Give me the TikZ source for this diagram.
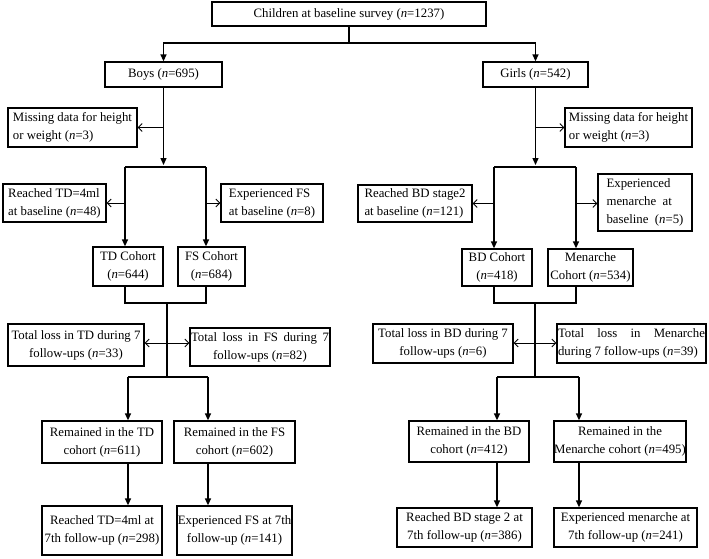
\documentclass[tikz,border=0pt]{standalone}
\usepackage{fontspec}
\setmainfont{Liberation Serif}
\usetikzlibrary{arrows.meta}
\newcommand{\ncount}[1]{(\textit{n}=#1)}
\tikzset{
  box/.style 2 args={draw, line width=1.3pt, minimum width=#1pt, minimum height=#2pt,
    inner sep=0pt, align=center, font=\fontsize{12.8}{18}\selectfont},
  link/.style={line width=1.3pt},
  flow/.style={line width=1.3pt, -{Triangle[length=7pt,width=6pt]}},
  excl/.style={line width=0.8pt, -{Straight Barb[length=4pt,width=8pt]}},
  lossarr/.style={line width=0.8pt, {Straight Barb[length=4pt,width=8pt]}-{Straight Barb[length=4pt,width=8pt]}},
}
\begin{document}
\begin{tikzpicture}[x=1pt, y=-1pt]
    \useasboundingbox (0,0) rectangle (709,558);
    % whole sample, split by sex
    \node[box={274}{24}] (all) at (349,14) {Children at baseline survey \ncount{1237}};
    \node[box={117}{25}] (boys) at (163.5,74.5) {Boys \ncount{695}};
    \node[box={105}{25}] (girls) at (535.5,74.5) {Girls \ncount{542}};
    \coordinate (sexsplit) at (349,43);
    \draw[link] (all.south) -- (sexsplit);
    \draw[flow] (sexsplit) -| (boys.north);
    \draw[flow] (sexsplit) -| (girls.north);

    % boys: exclusions at baseline
    \node[box={129}{39}, align=left] (missB) at (72.5,127.5) {Missing data for height\\or weight \ncount{3}};
    \node[box={103}{38}, align=left] (tdBase) at (54.5,203) {Reached TD=4ml\\at baseline \ncount{48}};
    \node[box={102}{38}, align=left] (fsBase) at (272,203) {Experienced FS\\at baseline \ncount{8}};
    \node[box={70}{39}] (tdCoh) at (128,266.5) {TD Cohort\\\ncount{644}};
    \node[box={67}{39}] (fsCoh) at (211.5,266.5) {FS Cohort\\\ncount{684}};
    \coordinate (bsplit) at (163.5,165);
    \coordinate (tdlane) at (125,167);
    \coordinate (fslane) at (206,167);
    \draw[flow] (boys.south) -- (bsplit);
    \draw[excl] (boys.south |- missB.east) -- (missB.east);
    \draw[link] (tdlane) -- (fslane);
    \draw[flow] (tdlane) -- (tdlane |- tdCoh.north);
    \draw[flow] (fslane) -- (fslane |- fsCoh.north);
    \draw[excl] (tdlane |- tdBase.east) -- (tdBase.east);
    \draw[excl] (fslane |- fsBase.west) -- (fsBase.west);

    % boys: loss to follow-up
    \node[box={136}{42}] (tdLoss) at (76,345) {Total loss in TD during 7\\follow-ups \ncount{33}};
    \node[box={140}{38}] (fsLoss) at (260,347) {\makebox[138pt][s]{Total loss in FS during 7}\\follow-ups \ncount{82}};
    \coordinate (tdjoin) at (125,303);
    \coordinate (fsjoin) at (206,303);
    \coordinate (btrunk) at (167,303);
    \coordinate (bloss) at (167,343);
    \coordinate (tdlow) at (128,377);
    \coordinate (fslow) at (208,377);
    \draw[link] (tdlane |- tdCoh.south) -- (tdjoin) -- (fsjoin) -- (fslane |- fsCoh.south);
    \draw[link] (btrunk) -- (btrunk |- tdlow);
    \draw[lossarr] (bloss -| tdLoss.east) -- (bloss -| fsLoss.west);
    \draw[link] (tdlow) -- (fslow);

    % boys: end of follow-up
    \node[box={120}{42}] (tdRem) at (102,442) {Remained in the TD\\cohort \ncount{611}};
    \node[box={121}{42}] (fsRem) at (234.5,442) {Remained in the FS\\cohort \ncount{602}};
    \node[box={120}{49}] (tdEnd) at (102,530.5) {Reached TD=4ml at\\7th follow-up \ncount{298}};
    \node[box={115}{49}] (fsEnd) at (234.5,530.5) {Experienced FS at 7th\\follow-up \ncount{141}};
    \draw[flow] (tdlow) -- (tdlow |- tdRem.north);
    \draw[flow] (fslow) -- (fslow |- fsRem.north);
    \draw[flow] (tdlow |- tdRem.south) -- (tdlow |- tdEnd.north);
    \draw[flow] (fslow |- fsRem.south) -- (fslow |- fsEnd.north);

    % girls: exclusions at baseline
    \node[box={127}{39}, align=left] (missG) at (628.5,127.5) {Missing data for height\\or weight \ncount{3}};
    \node[box={114}{37}, align=left] (bdBase) at (415,203.5) {Reached BD stage2\\at baseline \ncount{121}};
    \node[box={94}{57}, align=left] (meBase) at (645,202.5) {Experienced\\menarche\ \ at\\baseline\ \ \ncount{5}};
    \node[box={70}{37}] (bdCoh) at (497,267.5) {BD Cohort\\\ncount{418}};
    \node[box={85}{37}] (meCoh) at (590.5,267.5) {Menarche\\Cohort \ncount{534}};
    \coordinate (gsplit) at (535.5,165);
    \coordinate (bdlane) at (494,167);
    \coordinate (melane) at (576,167);
    \draw[flow] (girls.south) -- (gsplit);
    \draw[excl] (girls.south |- missG.west) -- (missG.west);
    \draw[link] (bdlane) -- (melane);
    \draw[flow] (bdlane) -- (bdlane |- bdCoh.north);
    \draw[flow] (melane) -- (melane |- meCoh.north);
    \draw[excl] (bdlane |- bdBase.east) -- (bdBase.east);
    \draw[excl] (melane |- bdBase.east) -- (meBase.west |- bdBase.east);

    % girls: loss to follow-up
    \node[box={140}{39}] (bdLoss) at (443,343.5) {Total loss in BD during 7\\follow-ups \ncount{6}};
    \node[box={149}{39}, align=left] (meLoss) at (631.5,343.5) {\makebox[147pt][s]{Total loss in Menarche}\\during 7 follow-ups \ncount{39}};
    \coordinate (bdjoin) at (494,303);
    \coordinate (mejoin) at (576,303);
    \coordinate (gtrunk) at (535,303);
    \coordinate (gloss) at (535,343);
    \coordinate (bdlow) at (497,377);
    \coordinate (melow) at (579,377);
    \draw[link] (bdlane |- bdCoh.south) -- (bdjoin) -- (mejoin) -- (melane |- meCoh.south);
    \draw[link] (gtrunk) -- (gtrunk |- bdlow);
    \draw[lossarr] (gloss -| bdLoss.east) -- (gloss -| meLoss.west);
    \draw[link] (bdlow) -- (melow);

    % girls: end of follow-up
    \node[box={120}{41}] (bdRem) at (469,441.5) {Remained in the BD\\cohort \ncount{412}};
    \node[box={132}{41}] (meRem) at (620,441.5) {Remained in the\\Menarche cohort \ncount{495}};
    \node[box={135}{39}] (bdEnd) at (464.5,527.5) {Reached BD stage 2 at\\7th follow-up \ncount{386}};
    \node[box={143}{39}] (meEnd) at (625.5,527.5) {Experienced menarche at\\7th follow-up \ncount{241}};
    \draw[flow] (bdlow) -- (bdlow |- bdRem.north);
    \draw[flow] (melow) -- (melow |- meRem.north);
    \draw[flow] (bdlow |- bdRem.south) -- (bdlow |- bdEnd.north);
    \draw[flow] (melow |- meRem.south) -- (melow |- meEnd.north);
\end{tikzpicture}
\end{document}
